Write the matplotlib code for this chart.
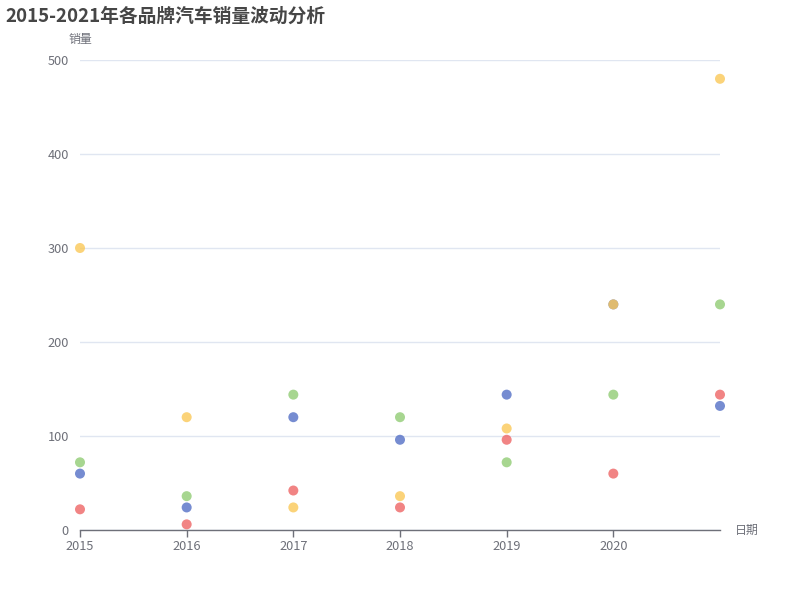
import matplotlib
matplotlib.use("Agg")
import matplotlib.pyplot as plt

plt.rcParams['font.family'] = ['Noto Sans CJK SC', 'DejaVu Sans']

years = [2015, 2016, 2017, 2018, 2019, 2020, 2021]
tick_labels = ['2015', '2016', '2017', '2018', '2019', '2020']
series_blue = [60, 24, 120, 96, 144, 240, 132]
series_green = [72, 36, 144, 120, 72, 144, 240]
series_yellow = [300, 120, 24, 36, 108, 240, 480]
series_red = [22, 6, 42, 24, 96, 60, 144]

colors = ['#5470c6', '#91cc75', '#fac858', '#ee6666']
series = [series_blue, series_green, series_yellow, series_red]

fig = plt.figure(figsize=(8, 6), dpi=100)
ax = fig.add_axes([80/800, 70/600, 640/800, 470/600])

for vals, c in zip(series, colors):
    ax.scatter(years, vals, s=52, color=c, alpha=0.8, edgecolors='none', zorder=3, clip_on=False)

ax.set_xlim(2015, 2021)
ax.set_ylim(0, 500)
ax.set_xticks(years[:6])
ax.set_xticklabels(tick_labels)
ax.set_yticks([0, 100, 200, 300, 400, 500])
ax.grid(axis='y', color='#E0E6F1', linewidth=1)
ax.set_axisbelow(True)
for s in ['top', 'right', 'left']:
    ax.spines[s].set_visible(False)
ax.spines['bottom'].set_color('#6E7079')
ax.spines['bottom'].set_linewidth(1)
ax.tick_params(axis='x', colors='#6E7079', labelsize=9.2, length=5, width=1, pad=2, direction='out')
ax.tick_params(axis='y', colors='#6E7079', labelsize=9.2, length=0, pad=8)
for lbl in ax.get_xticklabels() + ax.get_yticklabels():
    lbl.set_color('#6E7079')

fig.text(5/800, 1 - 16/600, '2015-2021年各品牌汽车销量波动分析', fontsize=13.5, fontweight='bold',
         color='#464646', ha='left', va='center')
fig.text(80/800, 1 - 39/600, '销量', fontsize=8.6, color='#6E7079', ha='center', va='center')
fig.text(747/800, 1 - 530/600, '日期', fontsize=8.6, color='#6E7079', ha='center', va='center')

fig.savefig('out.png', dpi=100)
